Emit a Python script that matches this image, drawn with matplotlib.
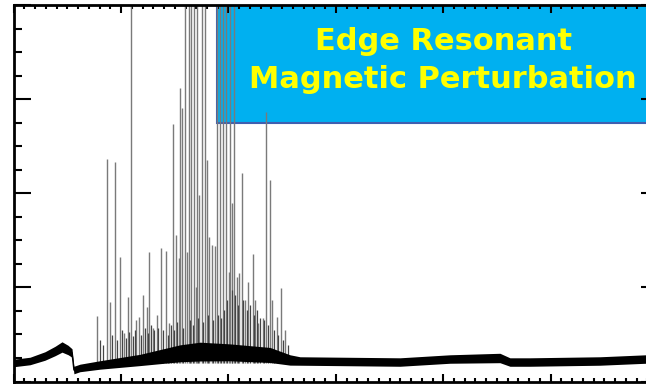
import numpy as np
import matplotlib.pyplot as plt
from matplotlib.patches import Rectangle
from matplotlib.ticker import MultipleLocator

# slow baseline of the signal (time in s, amplitude in a.u.)
base_t = [0.0, 0.152, 0.291, 0.385, 0.450, 0.506, 0.543, 0.561, 0.617, 0.804,
          1.176, 1.549, 1.735, 2.014, 2.387, 2.573, 2.666, 3.597, 4.062, 4.528,
          4.621, 4.807, 5.459, 5.887, 6.0]
base_v = [0.197, 0.218, 0.271, 0.324, 0.367, 0.335, 0.303, 0.122, 0.144, 0.176,
          0.229, 0.300, 0.318, 0.310, 0.282, 0.229, 0.218, 0.207, 0.239, 0.250,
          0.207, 0.207, 0.218, 0.239, 0.230]
# half width of the noise band
base_w = [0.040, 0.040, 0.045, 0.050, 0.055, 0.050, 0.045, 0.040, 0.040, 0.045,
          0.060, 0.090, 0.100, 0.090, 0.080, 0.055, 0.045, 0.045, 0.045, 0.050,
          0.045, 0.045, 0.045, 0.045, 0.045]

# large ELM bursts (peaks above 4 are off scale)
elm_t = [0.778, 0.868, 0.897, 0.943, 0.993, 1.027, 1.060, 1.092, 1.143, 1.167,
         1.207, 1.238, 1.263, 1.294, 1.331, 1.372, 1.418, 1.449, 1.480, 1.508,
         1.536, 1.551, 1.565, 1.595, 1.611, 1.628, 1.655, 1.683, 1.696, 1.704,
         1.727, 1.750, 1.781, 1.797, 1.820, 1.844, 1.870, 1.891, 1.919, 1.946,
         1.977, 2.005, 2.014, 2.030, 2.047, 2.076, 2.101, 2.123, 2.154, 2.184,
         2.225, 2.247, 2.277, 2.318, 2.349, 2.386, 2.408, 2.449, 2.489, 2.526]
elm_v = [0.70, 2.37, 0.85, 2.33, 1.32, 0.52, 0.90, 4.3, 0.65, 0.69,
         0.92, 0.79, 1.38, 0.57, 0.71, 1.42, 1.39, 0.62, 2.74, 1.56,
         1.31, 3.12, 2.91, 4.3, 1.38, 4.3, 4.3, 4.3, 1.01, 4.3,
         1.98, 4.3, 4.3, 2.36, 1.54, 1.45, 1.44, 4.3, 4.3, 4.3,
         4.3, 1.16, 4.3, 1.90, 4.3, 1.11, 1.15, 2.22, 0.87, 1.06,
         1.36, 0.87, 0.62, 0.68, 2.87, 2.14, 0.87, 0.69, 0.99, 0.55]

# small bursts in between
small_t = [0.804, 0.831, 0.915, 0.962, 1.008, 1.045, 1.073, 1.111, 1.129, 1.185,
           1.222, 1.250, 1.278, 1.306, 1.344, 1.390, 1.437, 1.465, 1.493, 1.520,
           1.576, 1.642, 1.669, 1.716, 1.762, 1.808, 1.856, 1.902, 1.930, 1.958,
           1.986, 2.033, 2.061, 2.088, 2.135, 2.172, 2.200, 2.237, 2.265, 2.293,
           2.331, 2.368, 2.424, 2.461, 2.507, 2.554]
small_v = [0.44, 0.39, 0.49, 0.44, 0.55, 0.46, 0.53, 0.48, 0.55, 0.49,
           0.57, 0.52, 0.60, 0.55, 0.57, 0.55, 0.49, 0.60, 0.55, 0.63,
           0.57, 0.65, 0.60, 0.68, 0.63, 0.71, 0.65, 0.71, 0.68, 0.76,
           0.87, 0.97, 0.92, 0.81, 0.87, 0.76, 0.81, 0.71, 0.76, 0.68,
           0.65, 0.60, 0.55, 0.49, 0.44, 0.39]

fig = plt.figure(figsize=(6.46, 3.84), dpi=100)
ax = fig.add_axes([0.0212, 0.0065, 0.9974, 0.9797])

# label box
ax.add_patch(Rectangle((0.3155, 0.686), 0.75, 0.4, transform=ax.transAxes,
                       facecolor='#00b0f0', edgecolor='#3f5fb0', linewidth=1.5,
                       zorder=1))

ax.vlines(elm_t, 0.2, elm_v, color='#7a7a7a', linewidth=1.0, zorder=2)
ax.vlines(small_t, 0.2, small_v, color='#444444', linewidth=0.9, zorder=2)

bt = np.array(base_t)
bv = np.array(base_v)
bw = np.array(base_w)
ax.fill_between(bt, bv - bw, bv + bw, color='black', linewidth=0, zorder=3)
ax.plot(bt, bv, color='black', linewidth=1.0, zorder=3)

ax.set_xlim(0, 6)
ax.set_ylim(0, 4)
ax.xaxis.set_major_locator(MultipleLocator(1))
ax.xaxis.set_minor_locator(MultipleLocator(0.1))
ax.yaxis.set_major_locator(MultipleLocator(1))
ax.yaxis.set_minor_locator(MultipleLocator(0.25))
ax.tick_params(axis='both', which='both', direction='in', top=True, right=True,
               labelbottom=False, labelleft=False, width=1.5, color='black')
ax.tick_params(axis='x', which='major', length=6)
ax.tick_params(axis='x', which='minor', length=3)
ax.tick_params(axis='y', which='major', length=12)
ax.tick_params(axis='y', which='minor', length=6)
for sp in ax.spines.values():
    sp.set_linewidth(2.0)
    sp.set_zorder(5)

fig.text(0.686, 0.870, 'Edge Resonant', ha='center', va='baseline',
         color='#ffff00', fontsize=22, fontweight='bold', family='DejaVu Sans')
fig.text(0.686, 0.771, 'Magnetic Perturbation', ha='center', va='baseline',
         color='#ffff00', fontsize=22, fontweight='bold', family='DejaVu Sans')

fig.savefig('out.png', dpi=100)
